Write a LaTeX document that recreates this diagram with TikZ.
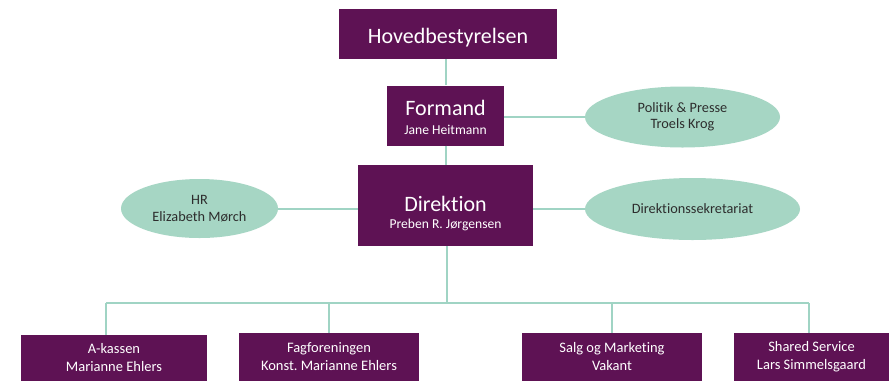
\documentclass[tikz,border=0pt]{standalone}
\usepackage{fontspec}
\setmainfont{Carlito}[Ligatures=NoCommon]
\frenchspacing
\usetikzlibrary{shapes.geometric}
\definecolor{plum}{RGB}{94,18,84}
\definecolor{mint}{RGB}{166,214,196}
\definecolor{mintline}{RGB}{160,212,196}
\definecolor{inkgrey}{RGB}{45,45,45}
\begin{document}
\begin{tikzpicture}[x=1pt,y=-1pt,
  box/.style={rectangle, fill=plum, text=white, align=center, inner sep=0pt},
  oval/.style={ellipse, fill=mint, text=inkgrey, align=center, inner sep=0pt,
    font=\fontsize{14.3}{16.5}\selectfont},
  big/.style={text=white, font=\fontsize{22}{26}\selectfont, anchor=base, inner sep=0pt},
  small/.style={text=white, font=\fontsize{13.6}{16}\selectfont, anchor=base, inner sep=0pt},
  unit/.style={box, font=\fontsize{14.5}{18}\selectfont, minimum height=48pt},
  link/.style={draw=mintline, line width=2pt}]
\useasboundingbox (0,0) rectangle (896,384);
\fill[white] (0,0) rectangle (896,384);

\coordinate (busL) at (106,303);
\coordinate (busR) at (809,303);
\coordinate (busM) at (447,303);

% shapes
\node[box, minimum width=218pt, minimum height=50pt] (hb) at (448,34) {};
\node[big] (hbt) at (448,43.5) {Hovedbestyrelsen};

\node[box, minimum width=117pt, minimum height=60pt] (fm) at (445.5,115.5) {};
\node[big] (fmt) at (445.5,115) {Formand};
\node[small] (fmn) at (445.5,134) {Jane Heitmann};

\node[box, minimum width=175pt, minimum height=81pt] (dir) at (445.5,205.5) {};
\node[big] (dirt) at (445.5,211) {Direktion};
\node[small] (dirn) at (445.5,228) {Preben R. Jørgensen};

\node[oval, minimum width=195pt, minimum height=61pt] (pp) at (682.5,117) {Politik \& Presse\\Troels Krog};
\node[oval, minimum width=157pt, minimum height=59pt] (hr) at (199.5,208.5) {HR\\Elizabeth Mørch};
\node[oval, minimum width=215pt, minimum height=62pt] (ds) at (692.5,209) {Direktionssekretariat};

\node[unit, minimum width=186pt, minimum height=46pt] (ak) at (114,358) {A-kassen\\Marianne Ehlers};
\node[unit, minimum width=180pt] (ff) at (329,357) {Fagforeningen\\Konst. Marianne Ehlers};
\node[unit, minimum width=180pt] (sm) at (612,357) {Salg og Marketing\\Vakant};
\node[unit, minimum width=155pt] (ss) at (811.5,357) {Shared Service\\Lars Simmelsgaard};

% connectors
\draw[link] (hb.south -| fm.north) -- (fm.north);
\draw[link] (fm.south) -- (dir.north);
\draw[link] (fm.east |- pp.west) -- (pp.west);
\draw[link] (hr.east) -- (dir.west |- hr.east);
\draw[link] (dir.east |- ds.west) -- (ds.west);
\draw[link] (dir.south -| busM) -- (busM);
\draw[link] (busL) -- (busR);
\draw[link] (busL) -- (busL |- ak.north);
\draw[link] (ff.north |- busL) -- (ff.north);
\draw[link] (busM -| sm.north) -- (sm.north);
\draw[link] (busR) -- (busR |- ss.north);
\end{tikzpicture}
\end{document}
